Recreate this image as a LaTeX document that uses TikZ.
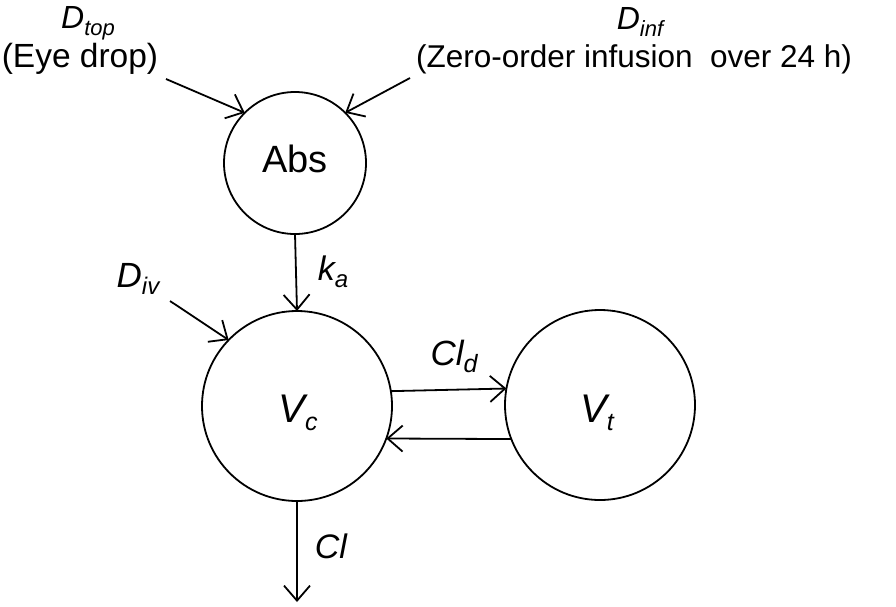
\documentclass[tikz,border=0pt]{standalone}
\usepackage{fontspec}
\setmainfont{Liberation Sans}
\usetikzlibrary{arrows.meta}
\newcommand\lbl[4]{{\fontsize{#1}{#1}\selectfont\itshape #2\raisebox{-0.22em}{\fontsize{#3}{#3}\selectfont #4}}}
\begin{document}
\begin{tikzpicture}[x=1pt,y=-1pt,
  comp/.style={draw,circle,line width=1.8pt,inner sep=0pt,outer sep=0pt},
  flow/.style={line width=1.8pt,-{Straight Barb[length=15pt,width=26pt,line width=1.8pt]}},
  txt/.style={inner sep=0pt,anchor=base}]
\useasboundingbox (0,0) rectangle (896,606);
% compartments
\node[comp,minimum size=142pt] (abs) at (295,163) {};
\node[comp,minimum size=190pt] (vc) at (297,406) {};
\node[comp,minimum size=190pt] (vt) at (600,405) {};
\node[txt] (abst) at (295,172) {\fontsize{38}{38}\selectfont Abs};
\node[txt] (vct) at (298,422) {\lbl{40}{V}{25}{c}};
\node[txt] (vtt) at (597,422) {\lbl{40}{V}{25}{t}};
% dose labels
\node[txt] (dtop) at (88,28) {\lbl{32}{D}{22}{top}};
\node[txt] (dtopd) at (80,67) {\fontsize{33.5}{33.5}\selectfont (Eye drop)};
\node[txt] (dinf) at (640,29) {\lbl{32}{D}{22}{inf}};
\node[txt] (dinfd) at (634,67) {\fontsize{31.5}{31.5}\selectfont (Zero-order infusion\ \ over 24 h)};
\node[txt] (div) at (138,287) {\lbl{35}{D}{24}{iv}};
\node[txt] (ka) at (333,280) {\lbl{34}{k}{24}{a}};
\node[txt] (cld) at (454,365) {\lbl{35}{Cl}{25}{d}};
\node[txt] (cl) at (331,558) {\fontsize{34}{34}\selectfont\itshape Cl};
% free ends
\coordinate (ptop) at (166,79);
\coordinate (pinf) at (410,78);
\coordinate (piv) at (170,301);
\coordinate (pout) at (297,602);
% connectors
\draw[flow] (ptop) -- (abs.135);
\draw[flow] (pinf) -- (abs.45);
\draw[flow] (piv) -- (vc.136);
\draw[flow] (abs.south) -- (vc.north);
\draw[flow] (vc.9.1) -- (vt.170.9);
\draw[flow] (vt.-159.7) -- (vc.-20.3);
\draw[flow] (vc.south) -- (pout);
\end{tikzpicture}
\end{document}
